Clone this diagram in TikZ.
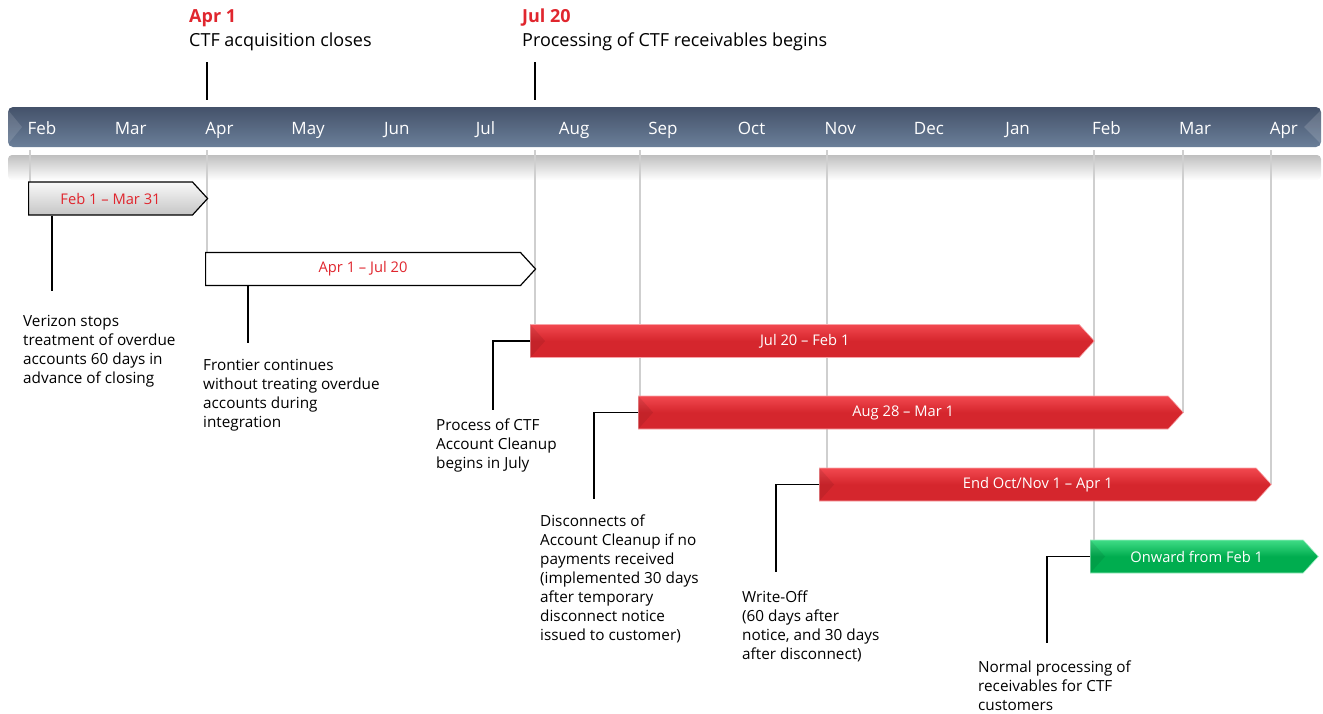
\documentclass[tikz,border=0pt]{standalone}
\usepackage{fontspec}
\setmainfont{Open Sans}
\usetikzlibrary{shapes.symbols,calc}

\definecolor{ctfred}{HTML}{D5262D}
\definecolor{ctfredhi}{HTML}{F2484F}
\definecolor{ctfgreen}{HTML}{00AD4F}
\definecolor{ctfgreenhi}{HTML}{3FDC86}
\definecolor{barTop}{HTML}{44526A}
\definecolor{barBot}{HTML}{6B7F99}
\definecolor{labelred}{HTML}{E0262E}
\definecolor{gridgray}{HTML}{CFCFCF}

\tikzset{
  head/.style={anchor=base west, inner sep=0pt, font=\fontsize{18}{20}\selectfont},
  headdate/.style={head, font=\fontsize{18}{20}\selectfont\bfseries, text=labelred},
  month/.style={anchor=base, inner sep=0pt, text=white, font=\fontsize{17}{18}\selectfont},
  phase/.style={signal, signal to=east, signal pointer angle=95, minimum height=33pt,
    inner sep=0pt, anchor=west, font=\fontsize{14.7}{17}\selectfont},
  grayphase/.style={phase, draw=black, line width=1.2pt, top color=white!95!gray,
    bottom color=gray!45, text=labelred},
  whitephase/.style={phase, draw=black, line width=1.2pt, fill=white, text=labelred},
  redphase/.style={phase, draw=ctfredhi!50!white, line width=.6pt, top color=ctfredhi,
    bottom color=ctfred, middle color=ctfred, text=white},
  greenphase/.style={phase, draw=ctfgreenhi!50!white, line width=.6pt, top color=ctfgreenhi,
    bottom color=ctfgreen, middle color=ctfgreen, text=white},
  note/.style={anchor=north west, align=left, inner sep=0pt, font=\fontsize{15.3}{19}\selectfont},
  lead/.style={line width=1.5pt},
  grid/.style={draw=gridgray, line width=1.2pt}
}

\begin{document}
\begin{tikzpicture}[x=1pt,y=-1pt]
\useasboundingbox (0,0) rectangle (1323,713);

% milestones above the bar
\node[headdate] (apr) at (189,22) {Apr 1};
\node[head] (aprtxt) at (189,46) {CTF acquisition closes};
\node[headdate] (jul) at (522,22) {Jul 20};
\node[head] (jultxt) at (522,46) {Processing of CTF receivables begins};

% month bar and its shadow
\shade[top color=gray!50, bottom color=white, rounded corners=4pt] (8,155) rectangle (1321,180);
\shade[top color=barTop, bottom color=barBot, rounded corners=5pt] (8,107) rectangle (1321,147);
\fill[white, opacity=.12] (8,110) -- (22,127) -- (8,144) -- cycle;
\fill[white, opacity=.15] (1321,110) -- (1304,127) -- (1321,144) -- cycle;
\foreach \m [count=\i from 0] in {Feb,Mar,Apr,May,Jun,Jul,Aug,Sep,Oct,Nov,Dec,Jan,Feb,Mar,Apr}
  \node[month] (m\i) at ({42+88.7*\i},134.5) {\m};

\draw[lead] (207,62) -- (207,100);
\draw[lead] (535,62) -- (535,100);

% month grid lines
\foreach \x/\yend in {30/182, 207/253, 535/325, 640/396, 827/468, 1094/540, 1183/413, 1271/484}
  \draw[grid] (\x,150) -- (\x,\yend);

% phases
\node[grayphase, minimum width=179pt] (p1) at (28,198.5) {Feb 1 – Mar 31};
\node[whitephase, minimum width=330pt] (p2) at (205,269) {Apr 1 – Jul 20};
\node[redphase, minimum width=564pt] (p3) at (530,341) {Jul 20 – Feb 1};
\node[redphase, minimum width=545pt] (p4) at (638,412.5) {Aug 28 – Mar 1};
\node[redphase, minimum width=452pt] (p5) at (819,484.5) {End Oct/Nov 1 – Apr 1};
\node[greenphase, minimum width=228pt] (p6) at (1090,556.5) {Onward from Feb 1};
\foreach \p in {p3,p4,p5,p6}
  \fill[black, opacity=.08] (\p.north west) -- ($(\p.west)+(15,0)$) -- (\p.south west) -- cycle;

% notes
\node[note] (vz) at (23,315) {Verizon stops\\treatment of overdue\\accounts 60 days in\\advance of closing};
\node[note] (fr) at (203,359) {Frontier continues\\without treating overdue\\accounts during\\integration};
\node[note] (pc) at (436,419) {Process of CTF\\Account Cleanup\\begins in July};
\node[note] (dc) at (540,515) {Disconnects of\\Account Cleanup if no\\payments received\\(implemented 30 days\\after temporary\\disconnect notice\\issued to customer)};
\node[note] (wo) at (742,591) {Write-Off\\(60 days after\\notice, and 30 days\\after disconnect)};
\node[note] (np) at (978,661) {Normal processing of\\receivables for CTF\\customers};

\coordinate (vzend) at (52,291);
\coordinate (frend) at (248,343);
\coordinate (pcend) at (493,410);
\coordinate (dcend) at (594,499);
\coordinate (woend) at (776,572);
\coordinate (npend) at (1047,643);

% leader lines
\draw[lead] (vzend |- p1.south) -- (vzend);
\draw[lead] (frend |- p2.south) -- (frend);
\draw[lead] (p3.west) -| (pcend);
\draw[lead] (p4.west) -| (dcend);
\draw[lead] (p5.west) -| (woend);
\draw[lead] (p6.west) -| (npend);
\end{tikzpicture}
\end{document}
